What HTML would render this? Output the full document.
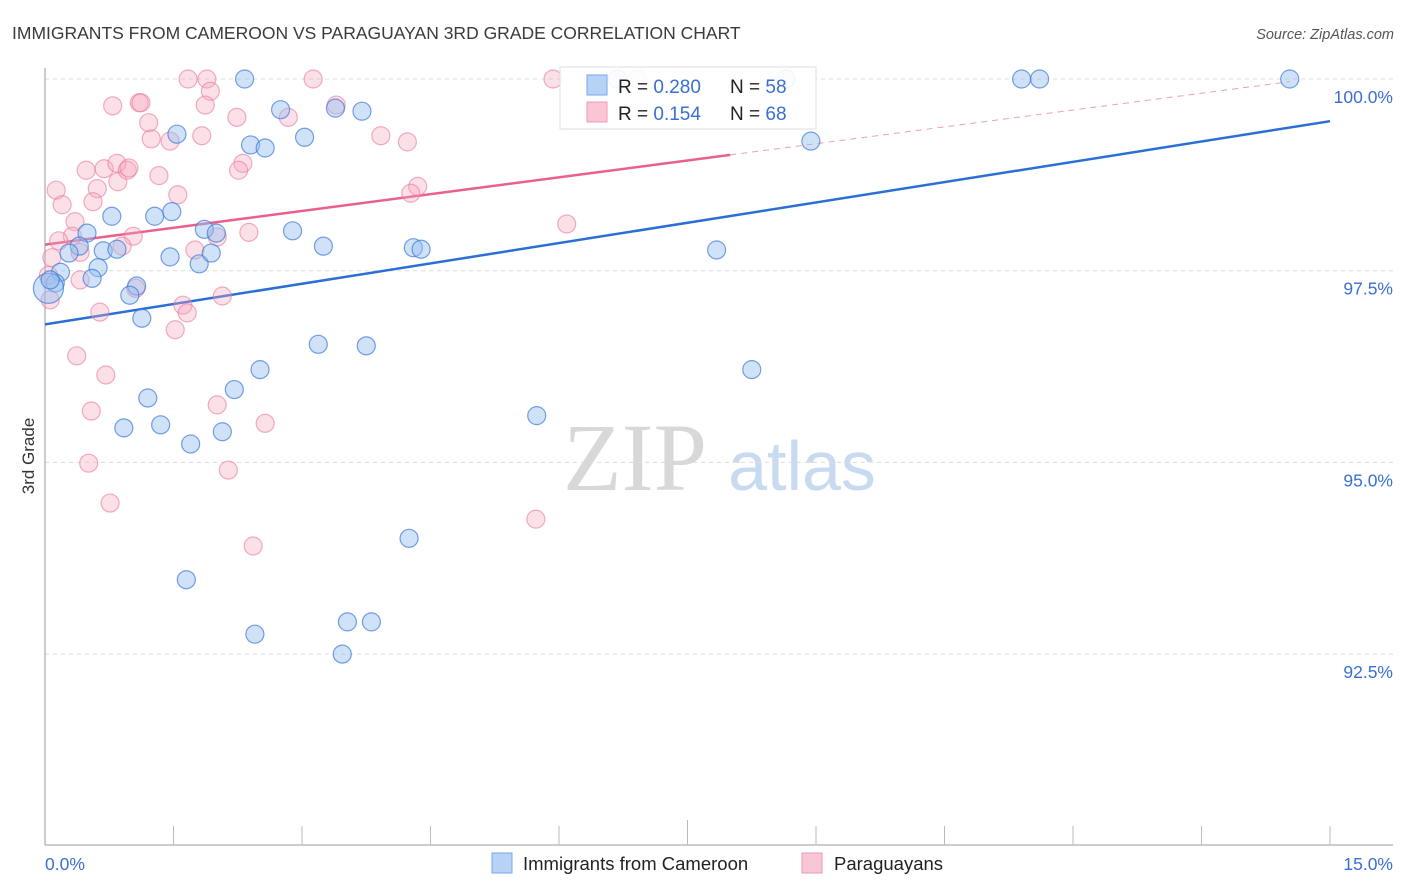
<!DOCTYPE html>
<html><head><meta charset="utf-8"><style>
body{margin:0;background:#fff;font-family:"Liberation Sans",sans-serif;}
#wrap{position:relative;width:1406px;height:892px;overflow:hidden;}
</style></head><body>
<div id="wrap">
<svg id="chart" width="1406" height="892" xmlns="http://www.w3.org/2000/svg">
<text x="12" y="39" font-size="17.5" fill="#3a3a3a">IMMIGRANTS FROM CAMEROON VS PARAGUAYAN 3RD GRADE CORRELATION CHART</text>
<text x="1394" y="39" font-size="14.5" fill="#555" font-style="italic" text-anchor="end">Source: ZipAtlas.com</text>
<text transform="translate(34,456) rotate(-90)" font-size="17" fill="#333" text-anchor="middle">3rd Grade</text>
<g>
<text x="635" y="490" font-size="96" font-family="Liberation Serif,serif" fill="#d8d8d8" text-anchor="middle">ZIP</text>
<text x="802" y="490" font-size="70" fill="#c8daf0" text-anchor="middle">atlas</text>
</g>
<g id="grid"></g>
<g id="axes"></g>
<g id="lines"></g>
<g id="pts"></g>
<g>
<rect x="560" y="67" width="256" height="62" fill="#fff" fill-opacity="0.9" stroke="#ddd"/>
<rect x="587" y="75" width="20" height="20" fill="#b8d2f6" stroke="#7aa6e6"/>
<rect x="587" y="102" width="20" height="20" fill="#f9c6d6" stroke="#ee9ab4"/>
<text x="618" y="93" font-size="19" fill="#222">R = <tspan fill="#3a6fd0">0.280</tspan></text>
<text x="730" y="93" font-size="19" fill="#222">N = <tspan fill="#3a6fd0">58</tspan></text>
<text x="618" y="120" font-size="19" fill="#222">R =  <tspan fill="#3a6fd0">0.154</tspan></text>
<text x="730" y="120" font-size="19" fill="#222">N = <tspan fill="#3a6fd0">68</tspan></text>
</g>
<g>
<rect x="492" y="853" width="20" height="20" fill="#b8d2f6" stroke="#7aa6e6"/>
<text x="523" y="870" font-size="18.5" fill="#222">Immigrants from Cameroon</text>
<rect x="802" y="853" width="20" height="20" fill="#f9c6d6" stroke="#ee9ab4"/>
<text x="834" y="870" font-size="18.5" fill="#222">Paraguayans</text>
</g>
</svg>
</div>
<script>
const blueX=[2.33,6.68,8.65,11.40,11.61,14.53,2.75,3.39,3.70,1.54,3.03,2.40,2.57,8.94,0.78,1.28,1.48,1.86,2.00,0.49,2.89,3.25,4.30,4.39,7.84,0.40,0.28,0.68,0.84,1.46,1.80,1.94,0.62,0.55,0.18,0.12,0.04,1.07,0.99,1.13,3.19,3.75,2.51,8.25,2.21,1.20,0.92,1.35,2.07,1.70,5.74,4.25,1.65,2.45,3.53,3.81,3.47,0.06];
const blueY=[100,100,100,100,100,100,99.60,99.62,99.58,99.28,99.24,99.14,99.10,99.19,98.21,98.21,98.27,98.04,97.99,97.99,98.02,97.82,97.80,97.78,97.77,97.82,97.73,97.76,97.78,97.68,97.59,97.73,97.54,97.40,97.48,97.34,97.27,97.30,97.18,96.88,96.54,96.52,96.21,96.21,95.95,95.84,95.45,95.49,95.40,95.24,95.61,94.01,93.47,92.76,92.92,92.92,92.50,97.38];
const pinkX=[1.67,1.89,3.13,5.93,6.91,1.93,1.87,0.79,1.10,1.12,3.40,2.84,2.24,1.21,1.24,1.46,1.83,3.92,4.23,0.13,0.20,0.61,0.56,0.35,0.69,0.85,0.84,0.96,0.98,0.48,1.33,1.55,2.31,2.26,4.35,4.27,0.32,0.16,0.41,1.03,0.90,2.01,2.38,1.75,6.09,0.08,0.04,0.41,1.06,2.07,1.61,1.66,0.64,1.52,0.06,0.37,0.71,0.54,2.01,2.57,0.51,2.14,0.76,2.43,5.73];
const pinkY=[100,100,100,100,100,99.84,99.66,99.65,99.69,99.69,99.66,99.50,99.50,99.43,99.22,99.19,99.26,99.26,99.18,98.55,98.36,98.57,98.40,98.14,98.83,98.66,98.90,98.81,98.84,98.81,98.74,98.49,98.90,98.81,98.60,98.51,97.95,97.89,97.74,97.95,97.82,97.94,98.00,97.77,98.11,97.67,97.44,97.38,97.27,97.17,97.05,96.95,96.96,96.73,97.12,96.39,96.14,95.67,95.75,95.51,94.99,94.90,94.47,93.91,94.26];
const yTicks=[100,97.5,95,92.5];
const yTickLabels=["100.0%","97.5%","95.0%","92.5%"];
const xTicks=[0,1.5,3,4.5,6,7.5,9,10.5,12,13.5,15];
const blueTrend=[96.80,99.45];
const pinkTrend=[97.84,99.01,8.0];

const NS="http://www.w3.org/2000/svg";
const sx=v=>45+v/15*1285;
const sy=v=>79+(100-v)/2.5*191.7;
function mk(tag,attrs,parent){const e=document.createElementNS(NS,tag);for(const k in attrs)e.setAttribute(k,attrs[k]);parent.appendChild(e);return e;}
const grid=document.getElementById('grid'),axes=document.getElementById('axes'),lines=document.getElementById('lines'),pts=document.getElementById('pts');
yTicks.forEach((t,i)=>{
  const l=mk('line',{x1:45,x2:1393,y1:sy(t),y2:sy(t),stroke:'#dcdcdc','stroke-dasharray':'4,4'},grid);
  
  
  const tx=mk('text',{x:1393,y:sy(t)+24,'font-size':17.5,fill:'#3a6fd0','text-anchor':'end'},axes);
  tx.textContent=yTickLabels[i];
  
  
});
let a=mk('line',{x1:45,x2:45,y1:68,y2:845,stroke:'#bbb','stroke-width':1.5},axes);


a=mk('line',{x1:45,x2:1393,y1:845,y2:845,stroke:'#bbb','stroke-width':1.5},axes);


xTicks.forEach((t,i)=>{
  const tk=mk('line',{x1:sx(t),x2:sx(t),y1:(i==5?820:826),y2:845,stroke:'#bbb'},axes);
  
  
});
let xl=mk('text',{x:45,y:870,'font-size':17.5,fill:'#3a6fd0'},axes);xl.textContent='0.0%';


xl=mk('text',{x:1393,y:870,'font-size':17.5,fill:'#3a6fd0','text-anchor':'end'},axes);xl.textContent='15.0%';



function dot(x,y,fill,stroke,name,r){
  const c=mk('circle',{cx:sx(x),cy:sy(y),r:r||9,fill:fill,stroke:stroke,'stroke-width':1.2},pts);
  
  
}
pinkX.forEach((x,i)=>dot(x,pinkY[i],'rgba(245,165,190,0.35)','rgba(232,120,155,0.6)','paraguayan-point'));
blueX.forEach((x,i)=>dot(x,blueY[i],'rgba(150,190,240,0.45)','rgba(60,120,215,0.7)','cameroon-point',i==36?15:9));

let ln=mk('line',{x1:sx(0),y1:sy(blueTrend[0]),x2:sx(15),y2:sy(blueTrend[1]),stroke:'#2a6fd6','stroke-width':2.5},lines);


const slope=(pinkTrend[1]-pinkTrend[0])/pinkTrend[2];
ln=mk('line',{x1:sx(0),y1:sy(pinkTrend[0]),x2:sx(pinkTrend[2]),y2:sy(pinkTrend[1]),stroke:'#e8608c','stroke-width':2.5},lines);


ln=mk('line',{x1:sx(pinkTrend[2]),y1:sy(pinkTrend[1]),x2:sx(14.53),y2:sy(pinkTrend[0]+slope*14.53),stroke:'#e8a0b8','stroke-width':1,'stroke-dasharray':'6,5'},lines);


</script>
</body></html>
